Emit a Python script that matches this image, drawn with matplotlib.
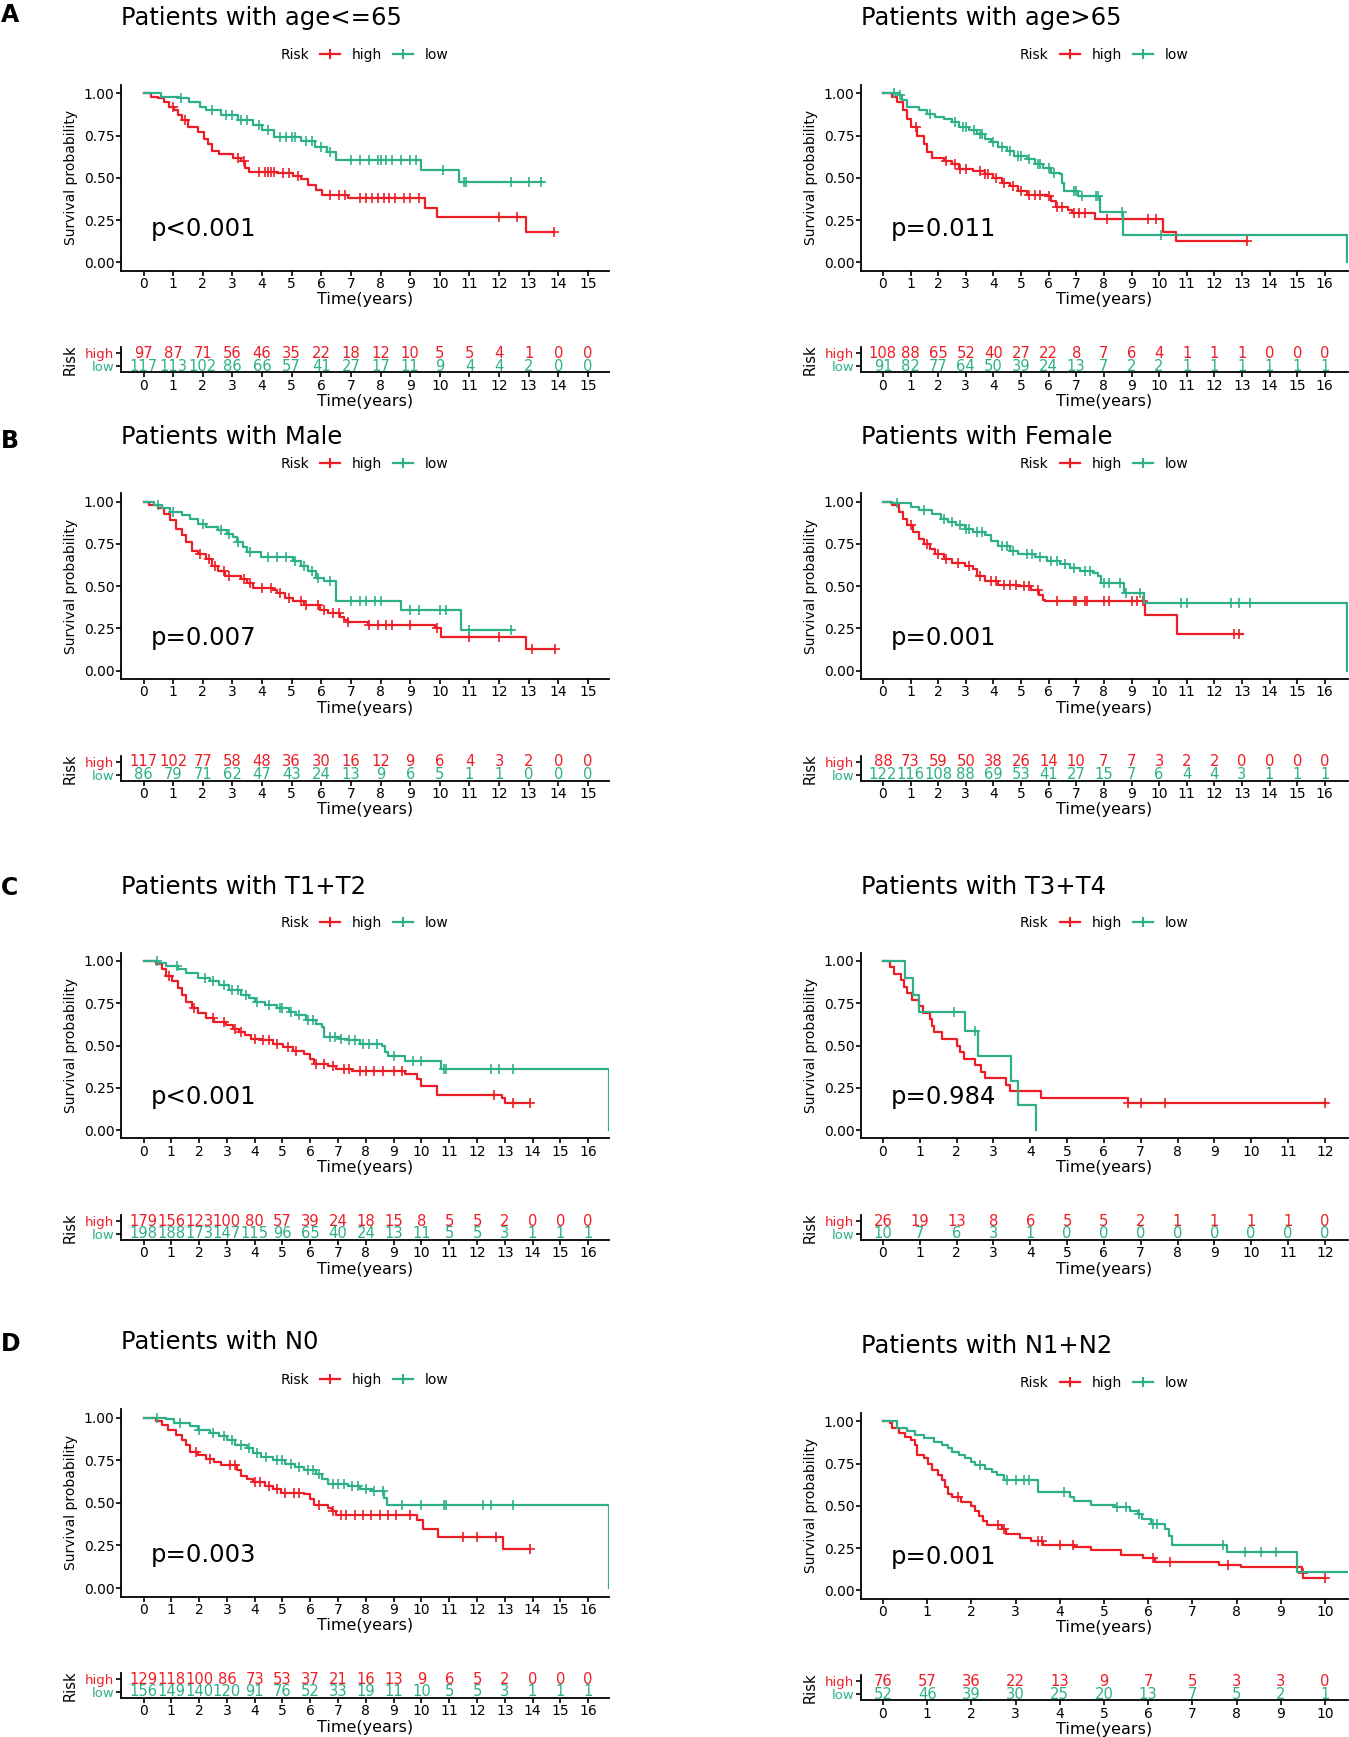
import numpy as np
import matplotlib.pyplot as plt
from matplotlib.lines import Line2D
from matplotlib.transforms import blended_transform_factory

# the reference text is wide (stretched Arial); DejaVu Sans matches its footprint best
plt.rcParams['font.family'] = ['DejaVu Sans']

RED = '#EE1C25'
GREEN = '#2DB089'

# ---- Kaplan-Meier step curves: (time, survival from that time on) ----
# A left: age<=65
a1_high_km = [(0, 1.0), (0.25, 0.98), (0.5, 0.97), (0.7, 0.95), (0.85, 0.92), (1.03, 0.90), (1.15, 0.87),
              (1.3, 0.84), (1.5, 0.80), (1.83, 0.77), (2.03, 0.73), (2.16, 0.70), (2.3, 0.66), (2.56, 0.64),
              (3.03, 0.62), (3.3, 0.60), (3.43, 0.56), (3.56, 0.535), (4.5, 0.53), (5.03, 0.51), (5.3, 0.49),
              (5.56, 0.46), (5.83, 0.43), (6.03, 0.40), (6.9, 0.38), (9.5, 0.32), (9.9, 0.27), (12.9, 0.18),
              (13.85, 0.18)]
a1_high_cens = [1.0, 1.4, 3.2, 3.4, 3.9, 4.1, 4.2, 4.3, 4.4, 4.7, 4.9, 5.2, 6.3, 6.6, 6.8, 7.3, 7.5, 7.7,
                7.9, 8.1, 8.3, 8.5, 8.8, 9.0, 9.3, 12.0, 12.6, 13.85]
a1_low_km = [(0, 1.0), (0.6, 0.98), (1.2, 0.975), (1.55, 0.95), (1.9, 0.92), (2.1, 0.90), (2.6, 0.87),
             (3.2, 0.84), (3.7, 0.81), (4.0, 0.78), (4.4, 0.74), (5.3, 0.72), (5.8, 0.68), (6.2, 0.655),
             (6.5, 0.605), (9.37, 0.545), (10.66, 0.475), (13.45, 0.475)]
a1_low_cens = [1.25, 2.3, 2.8, 3.0, 3.3, 3.5, 3.9, 4.2, 4.6, 4.8, 5.0, 5.1, 5.5, 5.7, 6.0, 6.3, 7.0, 7.3,
               7.6, 7.9, 8.0, 8.2, 8.4, 8.7, 9.0, 9.2, 10.1, 10.8, 10.9, 12.4, 13.0, 13.4]
a1_risk_high = [97, 87, 71, 56, 46, 35, 22, 18, 12, 10, 5, 5, 4, 1, 0, 0]
a1_risk_low = [117, 113, 102, 86, 66, 57, 41, 27, 17, 11, 9, 4, 4, 2, 0, 0]

# A right: age>65
a2_high_km = [(0, 1.0), (0.34, 0.98), (0.5, 0.95), (0.72, 0.90), (0.87, 0.85), (1.0, 0.80), (1.24, 0.75),
              (1.47, 0.70), (1.6, 0.65), (1.76, 0.62), (2.2, 0.60), (2.5, 0.58), (2.74, 0.555), (3.26, 0.54),
              (3.7, 0.52), (4.0, 0.50), (4.3, 0.47), (4.6, 0.45), (4.9, 0.42), (5.2, 0.40), (5.95, 0.39),
              (6.1, 0.36), (6.25, 0.33), (6.7, 0.31), (6.85, 0.29), (7.67, 0.255), (10.14, 0.18),
              (10.62, 0.125), (13.2, 0.125)]
a2_high_cens = [1.2, 2.3, 2.6, 2.8, 3.0, 3.5, 3.7, 3.8, 4.1, 4.4, 4.7, 5.0, 5.3, 5.5, 5.7, 6.0, 6.3, 6.5,
                6.9, 7.1, 7.3, 8.1, 9.6, 9.9, 13.2]
a2_low_km = [(0, 1.0), (0.57, 0.99), (0.7, 0.96), (0.87, 0.92), (1.3, 0.90), (1.6, 0.88), (1.9, 0.86),
             (2.2, 0.85), (2.5, 0.83), (2.75, 0.80), (3.1, 0.78), (3.4, 0.76), (3.7, 0.73), (3.9, 0.71),
             (4.15, 0.68), (4.5, 0.66), (4.75, 0.63), (5.2, 0.61), (5.5, 0.58), (5.8, 0.56), (6.1, 0.53),
             (6.4, 0.52), (6.5, 0.47), (6.55, 0.42), (7.07, 0.39), (7.85, 0.30), (8.68, 0.16), (16.8, 0.0)]
a2_low_cens = [0.4, 0.6, 1.7, 2.6, 2.9, 3.0, 3.3, 3.5, 3.6, 4.0, 4.3, 4.6, 4.9, 5.0, 5.3, 5.6, 5.7, 6.0,
               6.2, 6.9, 7.0, 7.2, 7.7, 7.8, 8.64, 10.06]
a2_risk_high = [108, 88, 65, 52, 40, 27, 22, 8, 7, 6, 4, 1, 1, 1, 0, 0, 0]
a2_risk_low = [91, 82, 77, 64, 50, 39, 24, 13, 7, 2, 2, 1, 1, 1, 1, 1, 1]

# B left: Male
b1_high_km = [(0, 1.0), (0.2, 0.98), (0.5, 0.96), (0.7, 0.93), (0.9, 0.89), (1.1, 0.84), (1.3, 0.80),
              (1.43, 0.76), (1.63, 0.71), (1.83, 0.69), (2.1, 0.66), (2.3, 0.62), (2.5, 0.59), (2.76, 0.56),
              (3.3, 0.545), (3.5, 0.52), (3.7, 0.49), (4.36, 0.48), (4.5, 0.46), (4.76, 0.43), (5.03, 0.41),
              (5.43, 0.39), (5.96, 0.36), (6.23, 0.34), (6.63, 0.32), (6.77, 0.30), (6.9, 0.29), (7.57, 0.27),
              (9.83, 0.25), (10.04, 0.20), (12.9, 0.13), (13.9, 0.13)]
b1_high_cens = [1.9, 2.2, 2.4, 2.7, 2.9, 3.4, 3.6, 4.0, 4.3, 4.6, 4.9, 5.3, 5.5, 5.9, 6.1, 6.4, 6.6, 6.9,
                7.6, 7.9, 8.2, 8.4, 9.0, 9.9, 11.0, 12.0, 13.1, 13.9]
b1_low_km = [(0, 1.0), (0.36, 0.98), (0.63, 0.96), (0.9, 0.94), (1.3, 0.92), (1.56, 0.90), (1.83, 0.87),
             (2.1, 0.85), (2.5, 0.83), (2.83, 0.81), (3.03, 0.79), (3.16, 0.76), (3.36, 0.73), (3.5, 0.70),
             (3.96, 0.67), (5.03, 0.65), (5.3, 0.62), (5.56, 0.59), (5.83, 0.55), (6.1, 0.53), (6.5, 0.41),
             (8.7, 0.36), (10.7, 0.24), (12.45, 0.24)]
b1_low_cens = [0.5, 1.0, 2.0, 2.6, 2.9, 3.2, 3.6, 4.2, 4.5, 4.8, 5.1, 5.4, 5.7, 5.9, 6.3, 7.0, 7.3, 7.5,
               7.8, 8.0, 9.0, 9.3, 10.0, 10.2, 11.0, 12.4]
b1_risk_high = [117, 102, 77, 58, 48, 36, 30, 16, 12, 9, 6, 4, 3, 2, 0, 0]
b1_risk_low = [86, 79, 71, 62, 47, 43, 24, 13, 9, 6, 5, 1, 1, 0, 0, 0]

# B right: Female
b2_high_km = [(0, 1.0), (0.34, 0.98), (0.57, 0.94), (0.72, 0.90), (0.87, 0.86), (1.1, 0.82), (1.3, 0.78),
              (1.47, 0.75), (1.7, 0.72), (1.9, 0.69), (2.2, 0.66), (2.5, 0.64), (2.96, 0.62), (3.26, 0.60),
              (3.4, 0.56), (3.7, 0.53), (4.16, 0.51), (4.9, 0.50), (5.35, 0.48), (5.65, 0.45), (5.8, 0.42),
              (5.87, 0.41), (9.5, 0.33), (10.66, 0.22), (13.05, 0.22)]
b2_high_cens = [1.0, 1.6, 2.0, 2.3, 2.7, 3.1, 3.5, 3.9, 4.1, 4.4, 4.6, 4.8, 5.1, 5.3, 5.6, 6.3, 6.9, 7.0,
                7.3, 7.4, 8.0, 8.2, 9.0, 9.2, 9.4, 12.7, 12.9]
b2_low_km = [(0, 1.0), (0.3, 0.99), (1.0, 0.97), (1.3, 0.95), (1.76, 0.93), (2.1, 0.90), (2.36, 0.88),
             (2.66, 0.86), (2.96, 0.84), (3.26, 0.82), (3.7, 0.80), (3.93, 0.77), (4.16, 0.74), (4.6, 0.71),
             (4.9, 0.69), (5.5, 0.67), (5.95, 0.65), (6.4, 0.63), (6.77, 0.61), (7.15, 0.59), (7.6, 0.58),
             (7.8, 0.56), (7.9, 0.52), (8.72, 0.46), (9.47, 0.40), (16.8, 0.0)]
b2_low_cens = [0.5, 1.5, 2.2, 2.5, 2.8, 3.0, 3.1, 3.4, 3.6, 4.3, 4.5, 4.7, 5.2, 5.4, 5.7, 6.1, 6.3, 6.6,
               6.9, 7.3, 7.5, 8.0, 8.2, 8.6, 8.8, 9.3, 10.8, 11.0, 12.6, 12.9, 13.3]
b2_risk_high = [88, 73, 59, 50, 38, 26, 14, 10, 7, 7, 3, 2, 2, 0, 0, 0, 0]
b2_risk_low = [122, 116, 108, 88, 69, 53, 41, 27, 15, 7, 6, 4, 4, 3, 1, 1, 1]

# C left: T1+T2
c1_high_km = [(0, 1.0), (0.46, 0.98), (0.67, 0.95), (0.81, 0.91), (1.02, 0.88), (1.24, 0.84), (1.38, 0.80),
              (1.52, 0.76), (1.74, 0.72), (1.95, 0.69), (2.23, 0.66), (2.52, 0.64), (2.95, 0.62), (3.23, 0.60),
              (3.44, 0.58), (3.66, 0.56), (3.87, 0.54), (4.23, 0.53), (4.65, 0.51), (5.01, 0.49), (5.37, 0.47),
              (5.79, 0.45), (6.0, 0.42), (6.15, 0.39), (6.65, 0.38), (6.93, 0.36), (7.5, 0.35), (9.42, 0.33),
              (9.85, 0.30), (9.99, 0.26), (10.56, 0.21), (12.9, 0.19), (13.0, 0.16), (13.9, 0.16)]
c1_high_cens = [0.9, 1.8, 2.5, 2.9, 3.3, 3.5, 4.0, 4.3, 4.5, 4.8, 5.2, 5.5, 6.2, 6.5, 6.8, 7.2, 7.4, 7.8,
                8.0, 8.3, 8.6, 9.0, 9.3, 12.6, 13.3, 13.9]
c1_low_km = [(0, 1.0), (0.53, 0.99), (0.8, 0.97), (1.24, 0.95), (1.52, 0.93), (1.95, 0.90), (2.38, 0.88),
             (2.73, 0.86), (3.09, 0.83), (3.52, 0.80), (3.8, 0.78), (4.0, 0.76), (4.37, 0.74), (4.8, 0.72),
             (5.22, 0.70), (5.5, 0.68), (5.86, 0.65), (6.22, 0.63), (6.43, 0.61), (6.5, 0.55), (7.07, 0.54),
             (7.36, 0.53), (7.8, 0.51), (8.57, 0.50), (8.7, 0.46), (8.8, 0.44), (9.4, 0.41), (10.7, 0.36),
             (16.75, 0.0)]
c1_low_cens = [0.5, 1.2, 2.2, 2.5, 2.9, 3.2, 3.4, 3.7, 4.1, 4.5, 4.9, 5.0, 5.3, 5.6, 5.9, 6.1, 6.7, 6.9,
               7.1, 7.4, 7.6, 7.9, 8.1, 8.4, 9.0, 9.7, 10.0, 10.8, 10.9, 12.5, 12.8, 13.3]
c1_risk_high = [179, 156, 123, 100, 80, 57, 39, 24, 18, 15, 8, 5, 5, 2, 0, 0, 0]
c1_risk_low = [198, 188, 173, 147, 115, 96, 65, 40, 24, 13, 11, 5, 5, 3, 1, 1, 1]

# C right: T3+T4
c2_high_km = [(0, 1.0), (0.2, 0.962), (0.31, 0.923), (0.48, 0.885), (0.56, 0.846), (0.65, 0.808),
              (0.79, 0.769), (0.99, 0.731), (1.1, 0.692), (1.27, 0.654), (1.32, 0.615), (1.38, 0.577),
              (1.6, 0.538), (2.0, 0.50), (2.09, 0.462), (2.2, 0.423), (2.5, 0.385), (2.67, 0.346),
              (2.78, 0.308), (3.34, 0.269), (3.45, 0.231), (4.3, 0.192), (6.65, 0.158), (12.03, 0.158)]
c2_high_cens = [6.65, 7.02, 7.66, 12.0]
c2_low_km = [(0, 1.0), (0.59, 0.90), (0.82, 0.80), (0.99, 0.70), (2.22, 0.583), (2.58, 0.4375),
             (3.48, 0.29), (3.68, 0.145), (4.15, 0.0)]
c2_low_cens = [1.94, 2.5]
c2_risk_high = [26, 19, 13, 8, 6, 5, 5, 2, 1, 1, 1, 1, 0]
c2_risk_low = [10, 7, 6, 3, 1, 0, 0, 0, 0, 0, 0, 0, 0]

# D left: N0
d1_high_km = [(0, 1.0), (0.46, 0.98), (0.67, 0.96), (0.88, 0.93), (1.17, 0.90), (1.38, 0.87), (1.52, 0.84),
              (1.67, 0.80), (1.95, 0.78), (2.23, 0.76), (2.52, 0.74), (2.8, 0.72), (3.37, 0.69), (3.52, 0.66),
              (3.73, 0.64), (3.94, 0.62), (4.37, 0.60), (4.65, 0.58), (4.94, 0.56), (5.79, 0.55), (6.0, 0.52),
              (6.15, 0.49), (6.65, 0.47), (6.79, 0.45), (6.93, 0.43), (9.85, 0.40), (10.06, 0.345),
              (10.6, 0.30), (12.94, 0.23), (13.9, 0.23)]
d1_high_cens = [1.9, 2.4, 3.1, 3.3, 4.0, 4.2, 4.5, 4.8, 5.1, 5.4, 5.6, 6.3, 6.8, 7.1, 7.3, 7.6, 7.9, 8.2,
                8.5, 8.8, 9.1, 9.6, 11.5, 12.0, 12.7, 13.9]
d1_low_km = [(0, 1.0), (0.8, 0.99), (1.1, 0.97), (1.67, 0.95), (1.95, 0.93), (2.38, 0.91), (2.73, 0.89),
             (3.02, 0.87), (3.3, 0.84), (3.73, 0.82), (3.94, 0.79), (4.23, 0.77), (4.65, 0.75), (5.08, 0.73),
             (5.44, 0.71), (5.79, 0.69), (6.22, 0.67), (6.43, 0.64), (6.65, 0.61), (7.36, 0.60), (7.79, 0.58),
             (8.21, 0.57), (8.64, 0.53), (8.75, 0.49), (16.75, 0.0)]
d1_low_cens = [0.5, 1.3, 2.0, 2.5, 2.9, 3.2, 3.5, 3.8, 4.1, 4.4, 4.8, 5.0, 5.3, 5.6, 5.9, 6.1, 6.3, 6.8,
               7.0, 7.2, 7.5, 7.7, 8.0, 8.3, 8.6, 9.3, 10.0, 10.8, 10.9, 12.2, 12.5, 13.3]
d1_risk_high = [129, 118, 100, 86, 73, 53, 37, 21, 16, 13, 9, 6, 5, 2, 0, 0, 0]
d1_risk_low = [156, 149, 140, 120, 91, 76, 52, 33, 19, 11, 10, 5, 5, 3, 1, 1, 1]

# D right: N1+N2
d2_high_km = [(0, 1.0), (0.15, 0.987), (0.21, 0.96), (0.36, 0.93), (0.5, 0.91), (0.64, 0.89), (0.73, 0.86),
              (0.78, 0.80), (0.92, 0.78), (1.01, 0.75), (1.1, 0.71), (1.24, 0.68), (1.34, 0.65), (1.4, 0.61),
              (1.48, 0.57), (1.57, 0.55), (1.76, 0.52), (1.99, 0.50), (2.08, 0.47), (2.18, 0.44), (2.27, 0.41),
              (2.36, 0.385), (2.69, 0.36), (2.79, 0.335), (3.11, 0.31), (3.35, 0.29), (3.63, 0.27),
              (4.33, 0.255), (4.7, 0.24), (5.38, 0.21), (5.89, 0.19), (6.15, 0.17), (7.6, 0.15),
              (8.11, 0.135), (9.47, 0.10), (9.51, 0.07), (10.03, 0.07)]
d2_high_cens = [1.7, 2.6, 2.75, 3.5, 3.6, 4.0, 4.3, 6.1, 6.5, 7.8, 9.5, 10.0]
d2_low_km = [(0, 1.0), (0.31, 0.96), (0.54, 0.94), (0.73, 0.92), (0.92, 0.90), (1.15, 0.88), (1.34, 0.86),
             (1.48, 0.84), (1.57, 0.82), (1.71, 0.80), (1.85, 0.78), (1.99, 0.76), (2.08, 0.74), (2.32, 0.72),
             (2.46, 0.70), (2.58, 0.68), (2.74, 0.655), (3.51, 0.58), (4.23, 0.555), (4.33, 0.53),
             (4.7, 0.505), (5.26, 0.49), (5.59, 0.47), (5.78, 0.45), (5.87, 0.42), (6.06, 0.39), (6.38, 0.36),
             (6.48, 0.32), (6.54, 0.27), (7.79, 0.225), (9.37, 0.11), (10.52, 0.11)]
d2_low_cens = [2.2, 2.8, 3.0, 3.2, 3.3, 4.1, 5.3, 5.5, 5.8, 6.1, 6.2, 7.7, 8.2, 8.55, 8.9]
d2_risk_high = [76, 57, 36, 22, 13, 9, 7, 5, 3, 3, 0]
d2_risk_low = [52, 46, 39, 30, 25, 20, 13, 7, 5, 2, 1]

titles = ['Patients with age<=65', 'Patients with age>65', 'Patients with Male', 'Patients with Female',
          'Patients with T1+T2', 'Patients with T3+T4', 'Patients with N0', 'Patients with N1+N2']
pvals = ['p<0.001', 'p=0.011', 'p=0.007', 'p=0.001', 'p<0.001', 'p=0.984', 'p=0.003', 'p=0.001']
last_tick = [15, 16, 15, 16, 16, 12, 16, 10]
x_range = [(-0.774, 15.71), (-0.81, 16.84), (-0.774, 15.71), (-0.81, 16.84),
           (-0.826, 16.75), (-0.606, 12.63), (-0.826, 16.75), (-0.505, 10.52)]

curves = [
    (a1_high_km, a1_high_cens, a1_low_km, a1_low_cens, a1_risk_high, a1_risk_low),
    (a2_high_km, a2_high_cens, a2_low_km, a2_low_cens, a2_risk_high, a2_risk_low),
    (b1_high_km, b1_high_cens, b1_low_km, b1_low_cens, b1_risk_high, b1_risk_low),
    (b2_high_km, b2_high_cens, b2_low_km, b2_low_cens, b2_risk_high, b2_risk_low),
    (c1_high_km, c1_high_cens, c1_low_km, c1_low_cens, c1_risk_high, c1_risk_low),
    (c2_high_km, c2_high_cens, c2_low_km, c2_low_cens, c2_risk_high, c2_risk_low),
    (d1_high_km, d1_high_cens, d1_low_km, d1_low_cens, d1_risk_high, d1_risk_low),
    (d2_high_km, d2_high_cens, d2_low_km, d2_low_cens, d2_risk_high, d2_risk_low),
]

# ---- layout (pixels of the 1349x1737 canvas) ----
W, H = 1349, 1737
cols = [(120.6, 609.0), (860.6, 1348.0)]
# pixel rows of the 1.00 and 0.00 gridlines and of the title, per panel
y_one = [93.3, 93.3, 501.7, 501.7, 961.0, 961.0, 1417.7, 1421.3]
y_zero = [262.3, 262.3, 670.7, 670.7, 1130.0, 1130.0, 1588.0, 1590.3]
title_y = [18, 18, 437, 437, 887, 887, 1342, 1346]
letters = [('A', 15), ('B', 441), ('C', 888), ('D', 1344)]

fig = plt.figure(figsize=(W / 100, H / 100), dpi=100)


def fx(px):
    return px / W


def fy(py):
    return 1 - py / H


def style_axis(ax):
    for s in ['top', 'right']:
        ax.spines[s].set_visible(False)
    for s in ['left', 'bottom']:
        ax.spines[s].set_linewidth(1.3)
    ax.tick_params(length=3.5, width=1.2, pad=1, labelsize=10, colors='black')


def step_value(t, s, c):
    idx = np.searchsorted(t, c, side='right') - 1
    return s[idx]


for i in range(8):
    left_px, right_px = cols[i % 2]
    wpx = right_px - left_px
    hgt = y_zero[i] - y_one[i]
    top_px = y_one[i] - 0.05 * hgt
    bot_px = y_zero[i] + 0.05 * hgt
    high_km, high_cens, low_km, low_cens, risk_high, risk_low = curves[i]

    ax = fig.add_axes([fx(left_px), fy(bot_px), wpx / W, (bot_px - top_px) / H])
    for km, cens, clr in [(high_km, high_cens, RED), (low_km, low_cens, GREEN)]:
        t = np.array([k[0] for k in km])
        s = np.array([k[1] for k in km])
        ax.step(t, s, where='post', color=clr, lw=1.6)
        c = np.array(cens)
        ax.plot(c, step_value(t, s, c), ls='none', marker='+', ms=6.5, mew=1.2, color=clr)

    ax.set_xlim(*x_range[i])
    ax.set_ylim(-0.05, 1.05)
    ax.set_xticks(range(last_tick[i] + 1))
    ax.set_yticks([0, 0.25, 0.5, 0.75, 1.0])
    ax.set_yticklabels(['0.00', '0.25', '0.50', '0.75', '1.00'])
    style_axis(ax)
    ax.set_xlabel('Time(years)', fontsize=11.5, labelpad=1)
    ax.set_ylabel('Survival probability', fontsize=10)
    ax.yaxis.set_label_coords(-50 / wpx, 0.5)
    ax.yaxis.label.set_va('center')

    tr = blended_transform_factory(ax.transAxes, ax.transData)
    ax.text(0.062, 0.155, pvals[i], transform=tr, fontsize=17.5, va='baseline', ha='left')

    handles = [Line2D([], [], ls='none'),
               Line2D([], [], color=RED, lw=1.6, marker='+', ms=7, mew=1.5),
               Line2D([], [], color=GREEN, lw=1.6, marker='+', ms=7, mew=1.5)]
    ax.legend(handles, ['Risk', 'high', 'low'], loc='center',
              bbox_to_anchor=(0.5 - 16 / wpx, 1 + (38 - 0.05 * hgt) / (1.1 * hgt)),
              ncol=3, frameon=False, fontsize=10, handlelength=1.44, handletextpad=0.84,
              columnspacing=0.8, borderpad=0, borderaxespad=0, numpoints=1)

    fig.text(fx(left_px), fy(title_y[i]), titles[i], fontsize=17.5, ha='left', va='center')

    # risk table
    tax = fig.add_axes([fx(left_px), fy(y_zero[i] + 110), wpx / W, 25 / H])
    tax.set_xlim(*x_range[i])
    tax.set_ylim(0, 1)
    for k, (nh, nl) in enumerate(zip(risk_high, risk_low)):
        tax.text(k, 0.76, str(nh), color=RED, ha='center', va='center', fontsize=10.6)
        tax.text(k, 0.24, str(nl), color=GREEN, ha='center', va='center', fontsize=10.6)
    tax.set_xticks(range(last_tick[i] + 1))
    tax.set_yticks([0.24, 0.76])
    style_axis(tax)
    tax.set_yticklabels(['low', 'high'], fontsize=9.5)
    for lab, clr in zip(tax.get_yticklabels(), [GREEN, RED]):
        lab.set_color(clr)
    tax.set_xlabel('Time(years)', fontsize=11.5, labelpad=1)
    tax.set_ylabel('Risk', fontsize=10.5)
    tax.yaxis.set_label_coords(-50 / wpx, 0.5)
    tax.yaxis.label.set_va('center')

for letter, ly in letters:
    fig.text(0.001, fy(ly), letter, fontsize=17, weight='bold', ha='left', va='center')

fig.savefig('out.png', dpi=100, facecolor='white')
